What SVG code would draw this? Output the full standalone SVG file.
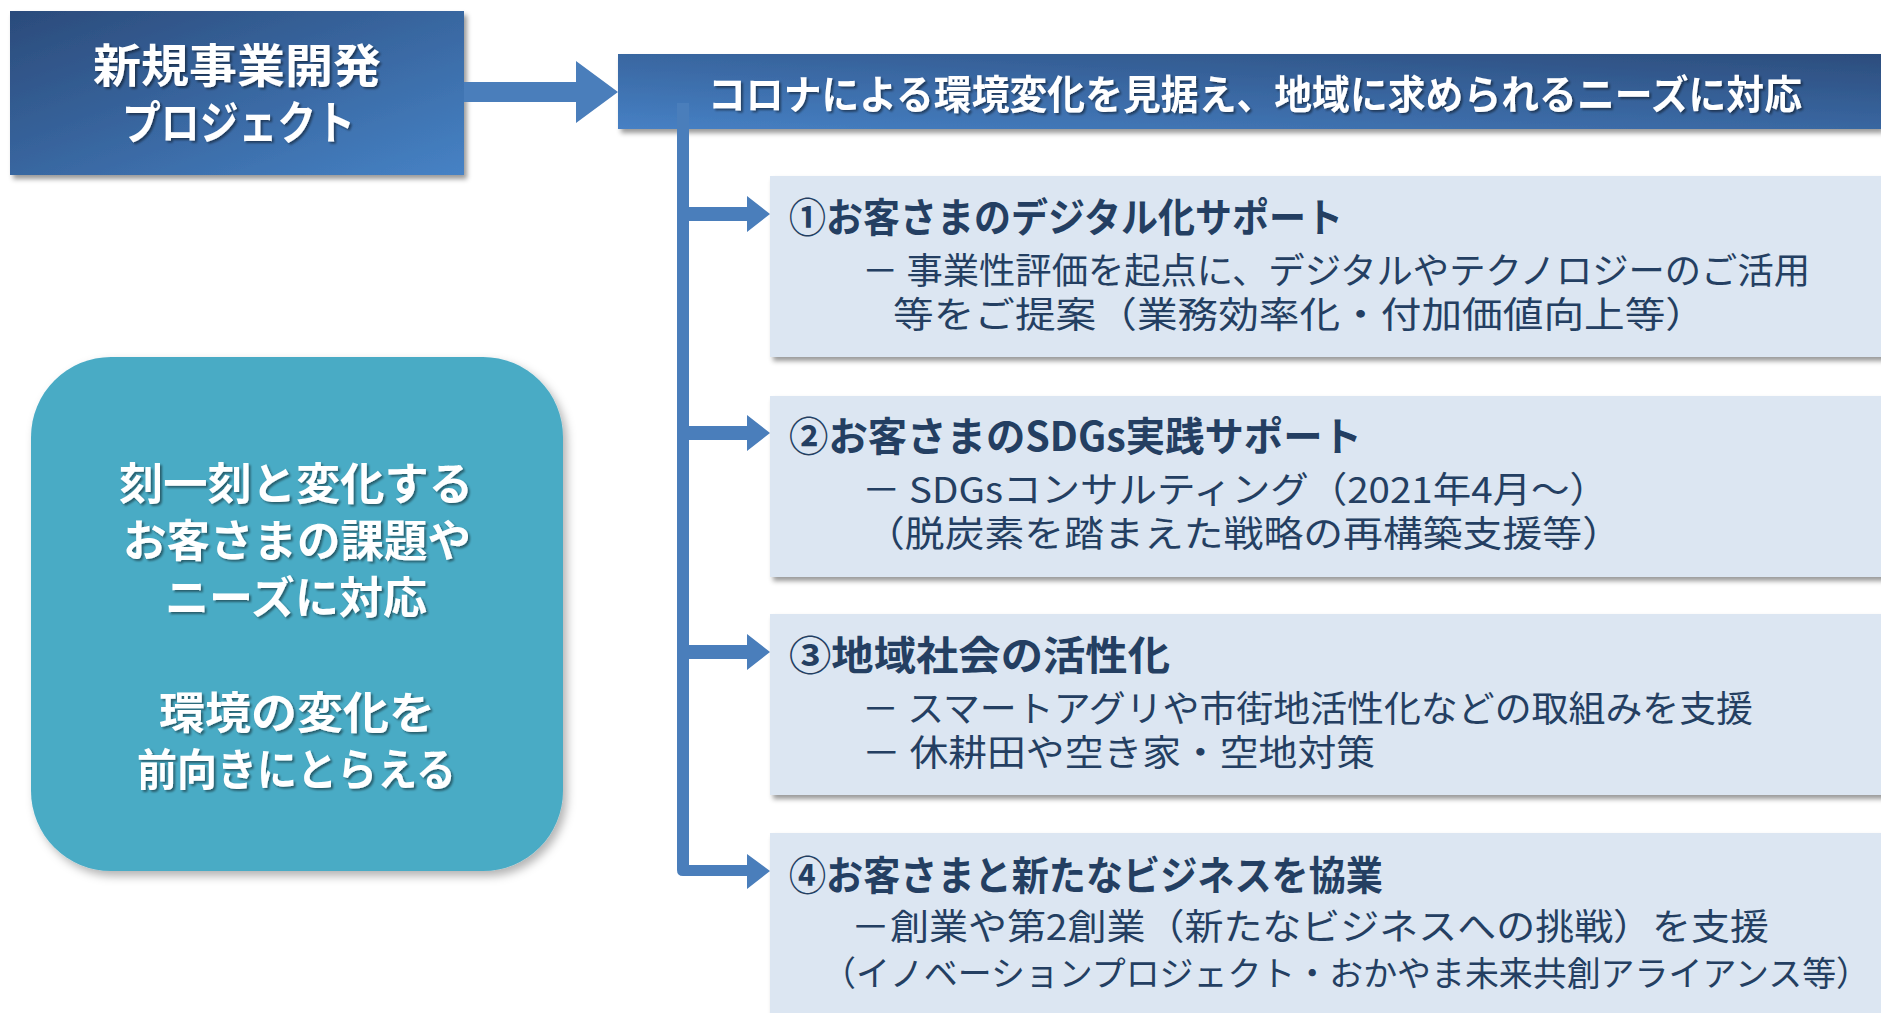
<svg xmlns="http://www.w3.org/2000/svg" width="1881" height="1013" viewBox="0 0 1881 1013">
<defs>
  <linearGradient id="gBox" x1="0" y1="0" x2="1" y2="1">
    <stop offset="0" stop-color="#2b4b7b"/>
    <stop offset="1" stop-color="#4682c5"/>
  </linearGradient>
  <linearGradient id="gHead" x1="0" y1="1" x2="1" y2="0">
    <stop offset="0" stop-color="#4680c4"/>
    <stop offset="1" stop-color="#2c4d7d"/>
  </linearGradient>
  <filter id="shadow" x="-10%" y="-10%" width="125%" height="140%">
    <feDropShadow dx="3" dy="4" stdDeviation="2.5" flood-color="#000" flood-opacity="0.4"/>
  </filter>
  <filter id="softShadow" x="-10%" y="-10%" width="125%" height="125%">
    <feDropShadow dx="4" dy="5" stdDeviation="5" flood-color="#000" flood-opacity="0.3"/>
  </filter>
  <filter id="tShadow" x="-5%" y="-20%" width="115%" height="150%">
    <feDropShadow dx="2" dy="2" stdDeviation="1.2" flood-color="#000" flood-opacity="0.45"/>
  </filter>
  <style>
    text { font-family: "Noto Sans CJK JP", "Noto Sans", sans-serif; }
    .white { fill: #ffffff; font-weight: 700; }
    .title { fill: #243f62; font-weight: 700; font-size: 40px; }
    .body { fill: #243f62; font-weight: 400; font-size: 36px; }
    .item { fill: #dce6f2; }
    .conn { fill: #4a7ebb; }
  </style>
</defs>
<rect width="1881" height="1013" fill="#ffffff"/>

<g id="project">
  <rect x="10" y="11" width="454" height="164" fill="url(#gBox)" filter="url(#shadow)"/>
  <text class="white" font-size="46" filter="url(#tShadow)"><tspan x="93" y="82" textLength="288" lengthAdjust="spacingAndGlyphs">新規事業開発</tspan><tspan x="122" y="139" textLength="233" lengthAdjust="spacingAndGlyphs">プロジェクト</tspan></text>
</g>

<g id="header">
  <rect x="618" y="54" width="1263" height="75" fill="url(#gHead)" filter="url(#shadow)"/>
  <text class="white" font-size="40" x="708" y="109" textLength="1094" lengthAdjust="spacingAndGlyphs" filter="url(#tShadow)">コロナによる環境変化を見据え、地域に求められるニーズに対応</text>
</g>

<g id="summary">
  <rect x="31" y="357" width="532" height="514" rx="80" ry="80" fill="#4aabc5" filter="url(#softShadow)"/>
  <text class="white" font-size="44" filter="url(#tShadow)"><tspan x="119" y="500" textLength="354" lengthAdjust="spacingAndGlyphs">刻一刻と変化する</tspan><tspan x="123" y="557" textLength="348" lengthAdjust="spacingAndGlyphs">お客さまの課題や</tspan><tspan x="165" y="614" textLength="262" lengthAdjust="spacingAndGlyphs">ニーズに対応</tspan><tspan x="159" y="729" textLength="276" lengthAdjust="spacingAndGlyphs">環境の変化を</tspan><tspan x="137" y="786" textLength="319" lengthAdjust="spacingAndGlyphs">前向きにとらえる</tspan></text>
</g>

<g id="item1">
  <rect class="item" x="770" y="176" width="1120" height="181" filter="url(#shadow)"/>
  <text class="body"><tspan class="title" x="789" y="232" textLength="554" lengthAdjust="spacingAndGlyphs">①お客さまのデジタル化サポート</tspan><tspan x="862" y="284" textLength="948" lengthAdjust="spacingAndGlyphs">－ 事業性評価を起点に、デジタルやテクノロジーのご活用</tspan><tspan x="893" y="328" textLength="813" lengthAdjust="spacingAndGlyphs">等をご提案（業務効率化・付加価値向上等）</tspan></text>
</g>

<g id="item2">
  <rect class="item" x="770" y="396" width="1120" height="181" filter="url(#shadow)"/>
  <text class="body"><tspan class="title" x="789" y="451" textLength="573" lengthAdjust="spacingAndGlyphs">②お客さまのSDGs実践サポート</tspan><tspan x="862" y="503" textLength="746" lengthAdjust="spacingAndGlyphs">－ SDGsコンサルティング（2021年4月～）</tspan><tspan x="865" y="547" textLength="757" lengthAdjust="spacingAndGlyphs">（脱炭素を踏まえた戦略の再構築支援等）</tspan></text>
</g>

<g id="item3">
  <rect class="item" x="770" y="614" width="1120" height="181" filter="url(#shadow)"/>
  <text class="body"><tspan class="title" x="789" y="670" textLength="381" lengthAdjust="spacingAndGlyphs">③地域社会の活性化</tspan><tspan x="862" y="722" textLength="891" lengthAdjust="spacingAndGlyphs">－ スマートアグリや市街地活性化などの取組みを支援</tspan><tspan x="862" y="766" textLength="513" lengthAdjust="spacingAndGlyphs">－ 休耕田や空き家・空地対策</tspan></text>
</g>

<g id="item4">
  <rect class="item" x="770" y="833" width="1120" height="200" filter="url(#shadow)"/>
  <text class="body"><tspan class="title" x="789" y="890" textLength="594" lengthAdjust="spacingAndGlyphs">④お客さまと新たなビジネスを協業</tspan><tspan x="851" y="940" textLength="918" lengthAdjust="spacingAndGlyphs">－創業や第2創業（新たなビジネスへの挑戦）を支援</tspan><tspan x="822" y="986" font-size="34.5" textLength="1048" lengthAdjust="spacingAndGlyphs">（イノベーションプロジェクト・おかやま未来共創アライアンス等）</tspan></text>
</g>

<g id="connectors">
  <polygon class="conn" points="464,82 576,82 576,61 618,92 576,123 576,102 464,102"/>
  <path class="conn" d="M677,103 H689 V865 H747 V854 L770,871 L747,889 V876 H683 Q677,876 677,870 Z"/>
  <polygon class="conn" points="689,207 747,207 747,196 770,214 747,232 747,221 689,221"/>
  <polygon class="conn" points="689,426 747,426 747,415 770,433 747,451 747,440 689,440"/>
  <polygon class="conn" points="689,645 747,645 747,634 770,652 747,670 747,659 689,659"/>
</g>
</svg>
